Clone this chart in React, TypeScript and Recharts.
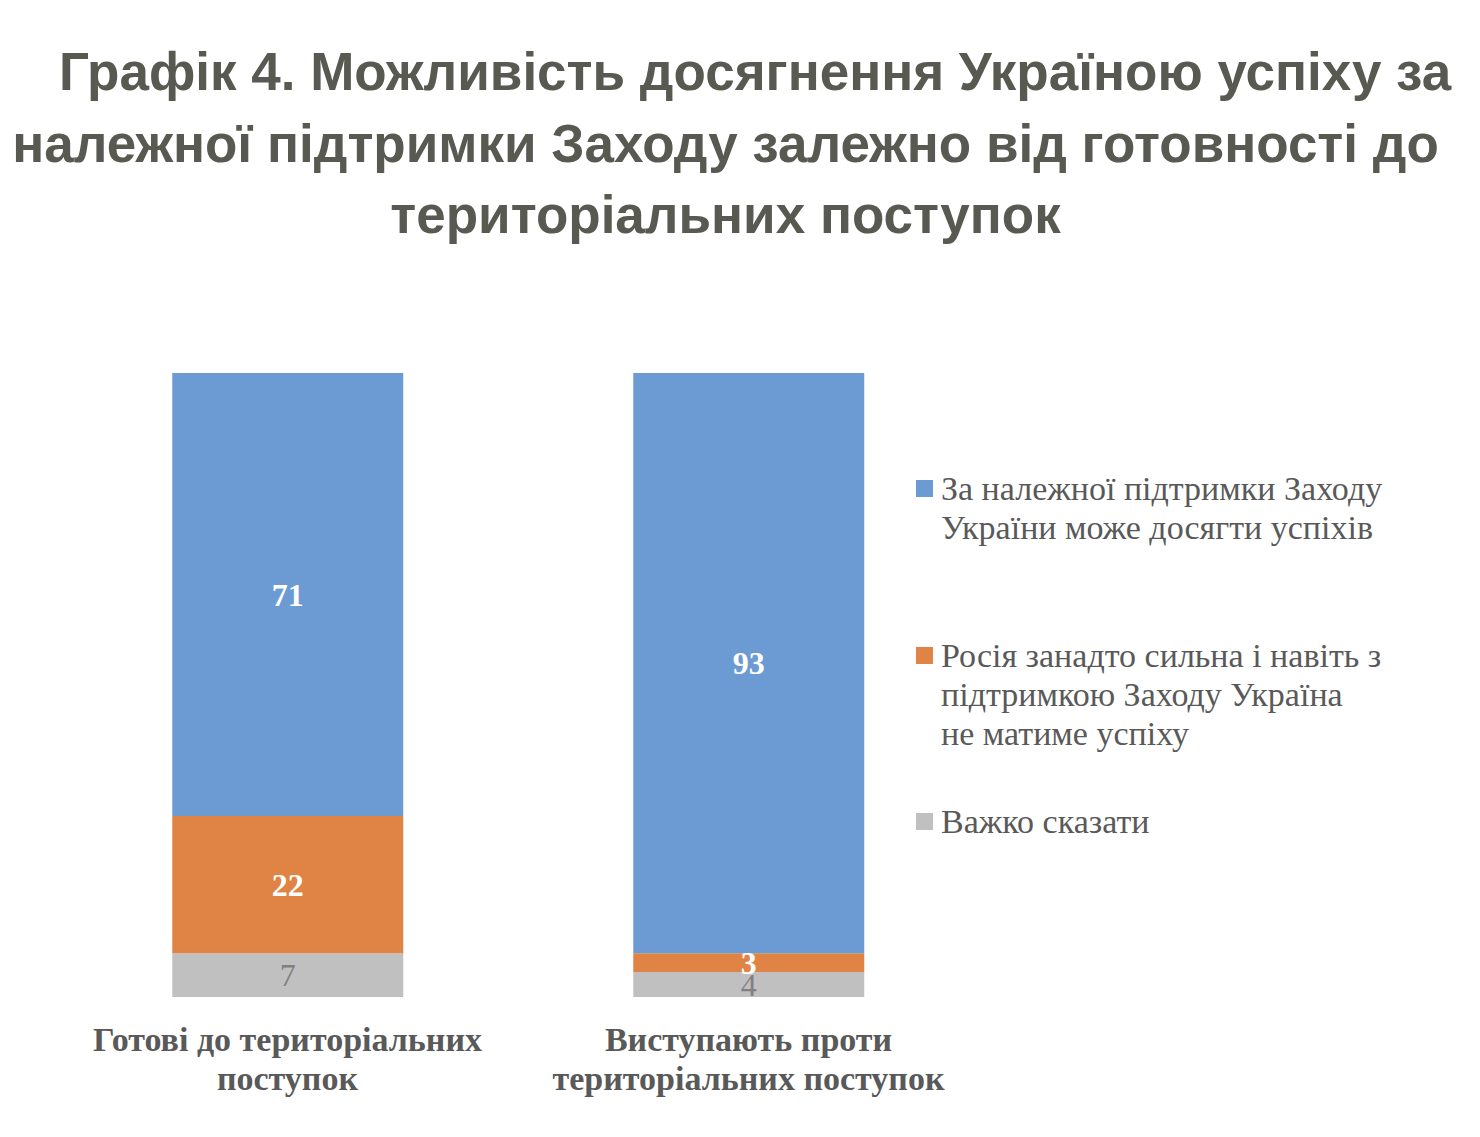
import React from 'react';
import { BarChart, Bar, XAxis, YAxis, LabelList } from 'recharts';

const categories = ['Готові до територіальних\nпоступок', 'Виступають проти\nтериторіальних поступок'];
const canSucceed = [71, 93];
const russiaTooStrong = [22, 3];
const hardToSay = [7, 4];

const seriesNames = [
  'За належної підтримки Заходу\nУкраїни може досягти успіхів',
  'Росія занадто сильна і навіть з\nпідтримкою Заходу Україна\nне матиме успіху',
  'Важко сказати',
];
const seriesColors = ['#6b9bd2', '#df8444', '#c0c0c0'];

const titleLines = [
  'Графік 4. Можливість досягнення Україною успіху за',
  'належної підтримки Заходу залежно від готовності до',
  'територіальних поступок',
];

const data = categories.map((name, i) => ({
  name,
  a: canSucceed[i],
  b: russiaTooStrong[i],
  c: hardToSay[i],
}));

const SERIF = '"Liberation Serif", "Times New Roman", serif';
const TEXT = '#595959';

const CategoryTick = (props: any) => {
  const { x, y, payload } = props;
  const lines = String(payload.value).split('\n');
  return (
    <g transform={`translate(${x},${y})`}>
      {lines.map((ln: string, i: number) => (
        <text
          key={i}
          x={0}
          y={34 + i * 39}
          textAnchor="middle"
          dominantBaseline="central"
          fontFamily={SERIF}
          fontWeight="bold"
          fontSize={34}
          fill={TEXT}
        >
          {ln}
        </text>
      ))}
    </g>
  );
};

const makeLabel = (color: string, bold: boolean) => (props: any) => {
  const { x, y, width, height, value } = props;
  return (
    <text
      x={x + width / 2}
      y={y + height / 2}
      textAnchor="middle"
      dominantBaseline="central"
      fontFamily={SERIF}
      fontWeight={bold ? 'bold' : 'normal'}
      fontSize={32}
      fill={color}
    >
      {value}
    </text>
  );
};

const legendGaps = [0, 89, 49];

const LegendBox = () => (
  <div
    style={{
      position: 'absolute',
      left: 916,
      top: 469,
      fontFamily: SERIF,
      fontSize: 34,
      color: TEXT,
      lineHeight: '39px',
      whiteSpace: 'nowrap',
    }}
  >
    {seriesNames.map((name, i) => (
      <div key={i} style={{ display: 'flex', alignItems: 'flex-start', marginTop: legendGaps[i] }}>
        <div
          style={{
            width: 17,
            height: 17,
            background: seriesColors[i],
            marginTop: 11,
            marginRight: 8,
            flexShrink: 0,
          }}
        />
        <div style={{ whiteSpace: 'pre' }}>{name}</div>
      </div>
    ))}
  </div>
);

export default function App() {
  return (
    <div style={{ position: 'absolute', left: 0, top: 0, width: 1480, height: 1137, background: '#fff' }}>
      <div
        style={{
          position: 'absolute',
          left: 0,
          top: 36,
          width: 1451,
          textAlign: 'center',
          fontFamily: '"Liberation Sans", Arial, sans-serif',
          fontWeight: 'bold',
          fontSize: 53,
          lineHeight: '71.5px',
          color: '#585950',
          whiteSpace: 'nowrap',
        }}
      >
        {titleLines.map((ln, i) => (
          <div key={i} style={{ paddingLeft: i === 0 ? 59 : 0 }}>
            {ln}
          </div>
        ))}
      </div>
      <div style={{ position: 'absolute', left: 0, top: 0 }}>
        <BarChart
          width={1480}
          height={1137}
          data={data}
          margin={{ top: 373, right: 501, bottom: 0, left: 57 }}
          barCategoryGap="25%"
        >
          <XAxis
            dataKey="name"
            axisLine={false}
            tickLine={false}
            height={140}
            tick={<CategoryTick />}
            interval={0}
          />
          <YAxis hide domain={[0, 100]} />
          <Bar dataKey="c" stackId="s" fill={seriesColors[2]} isAnimationActive={false}>
            <LabelList dataKey="c" content={makeLabel('#808080', false)} />
          </Bar>
          <Bar dataKey="b" stackId="s" fill={seriesColors[1]} isAnimationActive={false}>
            <LabelList dataKey="b" content={makeLabel('#ffffff', true)} />
          </Bar>
          <Bar dataKey="a" stackId="s" fill={seriesColors[0]} isAnimationActive={false}>
            <LabelList dataKey="a" content={makeLabel('#ffffff', true)} />
          </Bar>
        </BarChart>
      </div>
      <LegendBox />
    </div>
  );
}
